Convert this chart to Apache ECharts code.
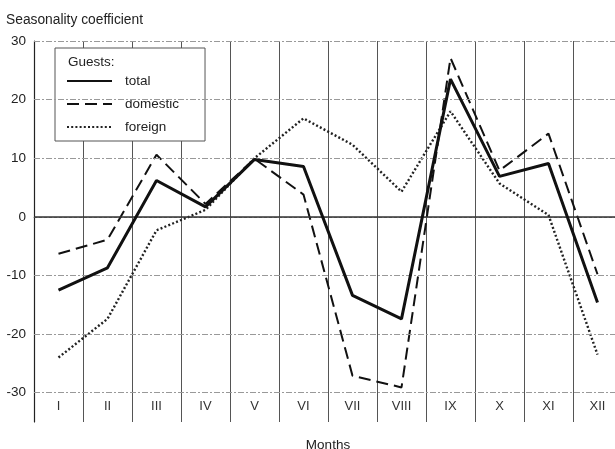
<!DOCTYPE html>
<html><head><meta charset="utf-8">
<script src="https://cdn.jsdelivr.net/npm/echarts@6/dist/echarts.min.js"></script>
<style>html,body{margin:0;padding:0;background:#fff;}#c{width:615px;height:449px;}</style>
</head><body><div id="c"></div>
<script>
var months = ['I','II','III','IV','V','VI','VII','VIII','IX','X','XI','XII'];
var total    = [-12.5, -8.7, 6.2, 1.7, 9.8, 8.6, -13.4, -17.4, 23.5, 6.9, 9.1, -14.6];
var domestic = [-6.3, -3.9, 10.6, 2.2, 9.9, 3.8, -27.1, -29.1, 27.1, 7.9, 14.2, -9.8];
var foreign  = [-24.0, -17.4, -2.3, 1.2, 10.0, 16.8, 12.3, 4.3, 18.0, 5.7, 0.3, -23.5];
var gridLines = [30, 20, 10, -10, -20, -30];

var chart = echarts.init(document.getElementById('c'));
var font = 'Liberation Sans, Arial, Helvetica, sans-serif';
chart.setOption({
  backgroundColor: '#fff',
  animation: false,
  title: {text: 'Seasonality coefficient', left: 1, top: 8,
    textStyle: {fontSize: 13.8, fontWeight: 'normal', color: '#222', fontFamily: font}},
  grid: {left: 34, top: 41, width: 588, height: 381, containLabel: false, outerBoundsMode: 'none'},
  legend: {
    orient: 'vertical', left: 55, top: 48,
    padding: [26, 26, 7, 11], itemGap: 9, itemWidth: 45, itemHeight: 14,
    backgroundColor: '#fff', borderColor: '#555', borderWidth: 1,
    itemStyle: {opacity: 0},
    textStyle: {fontSize: 13.5, color: '#222', fontFamily: font, padding: [0,0,0,8]},
    data: ['total', 'domestic', 'foreign']
  },
  graphic: [{type: 'text', left: 68, top: 55, z: 100,
    style: {text: 'Guests:', fontSize: 13.5, fill: '#222', fontFamily: font}}],
  xAxis: {
    type: 'category', data: months, boundaryGap: true,
    name: 'Months', nameLocation: 'middle', nameGap: 16,
    nameTextStyle: {fontSize: 13.5, color: '#222', fontFamily: font, verticalAlign: 'top'},
    axisLine: {show: true, lineStyle: {color: '#888', type: [3,2], width: 1}},
    axisTick: {show: false},
    axisLabel: {inside: true, margin: 9, fontSize: 13, color: '#333', fontFamily: font},
    splitLine: {show: true, lineStyle: {color: '#555', width: 1}}
  },
  yAxis: {
    type: 'value', min: -35, max: 30, interval: 5,
    axisLine: {show: true, lineStyle: {color: '#222', width: 1.2}},
    axisTick: {show: false},
    axisLabel: {fontSize: 13.5, color: '#222', fontFamily: font, margin: 8,
      formatter: function (v) { return (v % 10 === 0) ? String(v) : ''; }},
    splitLine: {show: false}
  },
  series: [
    {name: 'total', type: 'line', data: total, symbol: 'none', z: 5,
      lineStyle: {color: '#111', width: 3}, itemStyle: {color: '#111'},
      markLine: {silent: true, symbol: 'none', label: {show: false},
        lineStyle: {color: '#333', width: 1.5, type: 'solid'},
        data: [{yAxis: 0}]}},
    {name: 'domestic', type: 'line', data: domestic, symbol: 'none', z: 4,
      lineStyle: {color: '#111', width: 2, type: [12, 6]}, itemStyle: {color: '#111'}},
    {name: 'foreign', type: 'line', data: foreign, symbol: 'none', z: 3,
      lineStyle: {color: '#222', width: 2.4, type: [2, 2.2]}, itemStyle: {color: '#222'},
      markLine: {silent: true, symbol: 'none', label: {show: false},
        lineStyle: {color: '#999', width: 1, type: [6, 2, 2, 2]},
        data: gridLines.map(function (g) { return {yAxis: g}; })}}
  ]
});
</script></body></html>
